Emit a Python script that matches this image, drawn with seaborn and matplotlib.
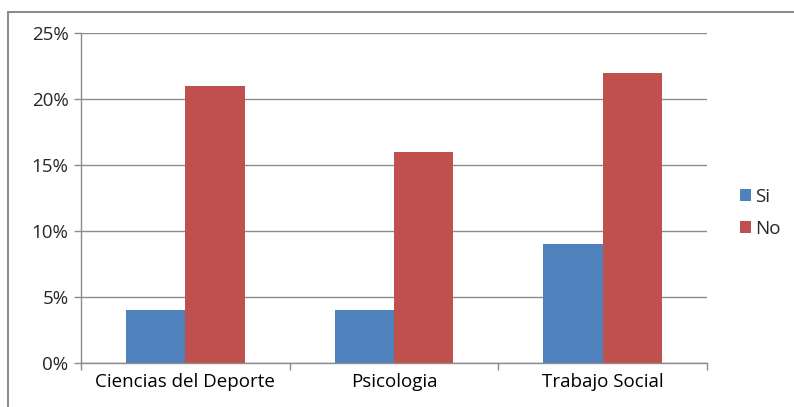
import matplotlib.pyplot as plt
import matplotlib.lines as mlines
import pandas as pd
import seaborn as sns
from matplotlib.ticker import FuncFormatter, FixedLocator

categories = ["Ciencias del Deporte", "Psicologia", "Trabajo Social"]
si_values = [4, 4, 9]
no_values = [21, 16, 22]
series = ["Si", "No"]
colors = ["#4F81BD", "#C0504D"]

df = pd.DataFrame({
    "categoria": categories * 2,
    "valor": si_values + no_values,
    "serie": ["Si"] * len(categories) + ["No"] * len(categories),
})

sns.set_style("white")
plt.rcParams["font.family"] = ["Open Sans", "DejaVu Sans"]
fs = 13.5

fig = plt.figure(figsize=(7.94, 4.07), dpi=100)
ax = fig.add_axes([81 / 794, 1 - 363 / 407, (707 - 81) / 794, (363 - 33) / 407])

sns.barplot(data=df, x="categoria", y="valor", hue="serie", hue_order=series,
            palette=colors, width=0.57, saturation=1, linewidth=0, ax=ax, legend=True)

ax.set_ylim(0, 25)
ax.set_xlim(-0.5, 2.5)
ax.set_yticks([0, 5, 10, 15, 20, 25])
ax.yaxis.set_major_formatter(FuncFormatter(lambda v, _: f"{int(v)}%"))
ax.grid(axis="y", color="#8c8c8c", linewidth=1)
ax.set_axisbelow(True)
ax.set_xlabel("")
ax.set_ylabel("")

for side in ["top", "right"]:
    ax.spines[side].set_visible(False)
for side in ["left", "bottom"]:
    ax.spines[side].set_color("#8c8c8c")
    ax.spines[side].set_linewidth(1)

ax.tick_params(axis="x", which="major", length=0, labelsize=fs, pad=7, colors="#000000")
ax.xaxis.set_minor_locator(FixedLocator([-0.5, 0.5, 1.5, 2.5]))
ax.tick_params(axis="x", which="minor", length=5, color="#8c8c8c", width=1, bottom=True)
ax.tick_params(axis="y", length=5, color="#8c8c8c", width=1, labelsize=fs, pad=4, left=True)

ax.legend(loc="center left", bbox_to_anchor=(1.04, 0.455), frameon=False,
          fontsize=fs, handlelength=0.6, handleheight=0.6, handletextpad=0.25,
          labelspacing=0.75, borderaxespad=0)

# outer chart border
fig.add_artist(mlines.Line2D([8 / 794, 8 / 794], [0, 1 - 12 / 407],
                             transform=fig.transFigure, color="#8c8c8c", linewidth=1.5))
fig.add_artist(mlines.Line2D([8 / 794, 1], [1 - 12 / 407, 1 - 12 / 407],
                             transform=fig.transFigure, color="#8c8c8c", linewidth=1.5))

fig.savefig("out.png", dpi=100)
